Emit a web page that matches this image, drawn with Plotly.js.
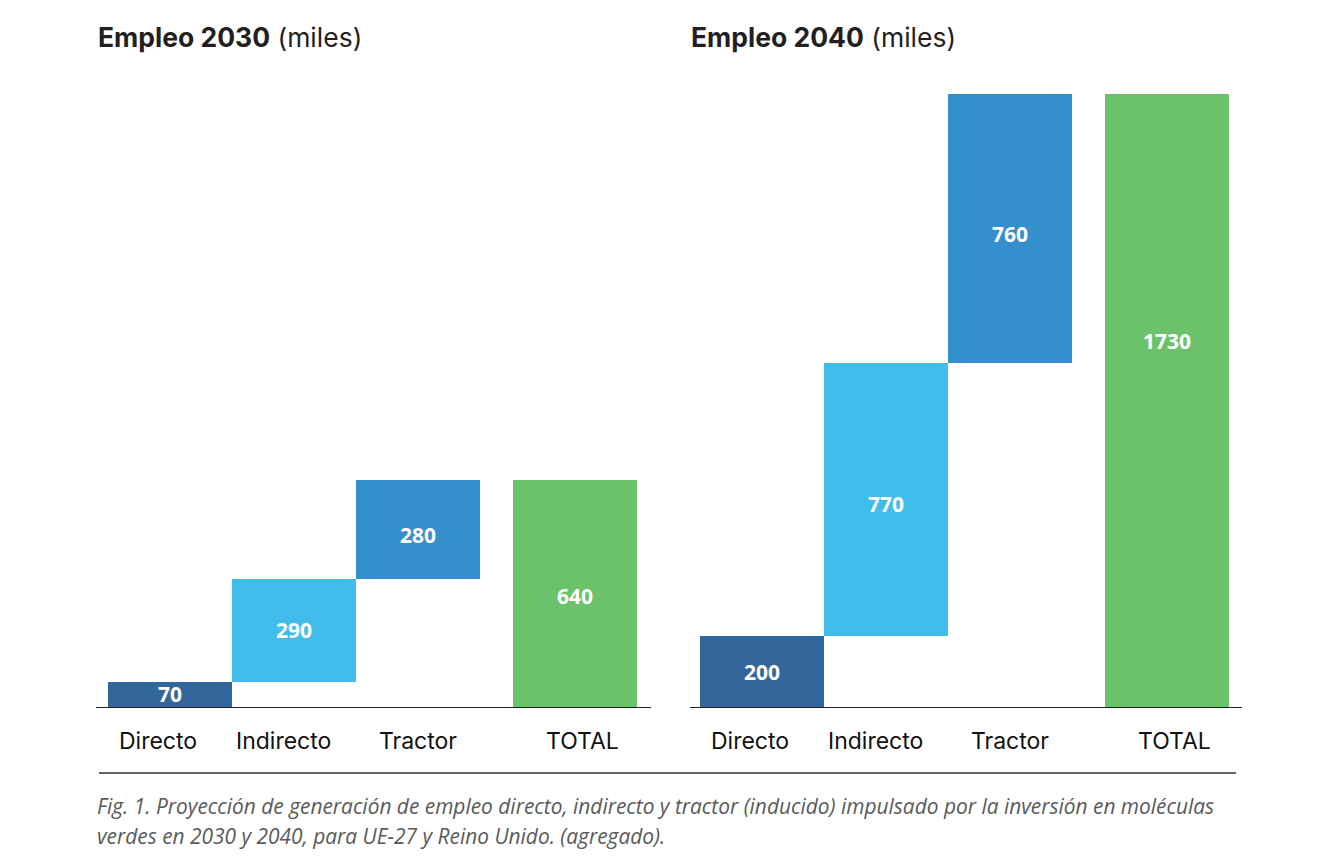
<!DOCTYPE html>
<html>
<head>
<meta charset="utf-8">
<script src="https://cdn.plot.ly/plotly-3.0.1.min.js"></script>
<style>
  html, body { margin: 0; padding: 0; background: #fff; }
  #chart { width: 1328px; height: 864px; }
</style>
</head>
<body>
<div id="chart"></div>
<script>
// Job creation (thousands) by type, 2030 and 2040
const categories = ['Directo', 'Indirecto', 'Tractor', 'TOTAL'];
const empleo2030 = [70, 290, 280, 640];
const empleo2040 = [200, 770, 760, 1730];
const barColors = ['#33669b', '#41bdec', '#3390cc', '#6bc26b'];
const panelTitles = ['<b>Empleo 2030</b> (miles)', '<b>Empleo 2040</b> (miles)'];
const captionLines = [
  'Fig. 1. Proyección de generación de empleo directo, indirecto y tractor (inducido) impulsado por la inversión en moléculas',
  'verdes en 2030 y 2040, para UE-27 y Reino Unido. (agregado).'
];

// Bar slots: three contiguous steps, then a detached total
const xPos = [0, 1, 2, 3.266];
const labelShift = [-12, -11, 0, 8];
// vertical nudges (px) for the value labels of each panel
const valueNudge = [[1, 1, -5, -2], [0, -4, -5, 60]];

// Waterfall bases: each step starts where the previous ended, total from zero
function bases(vals) {
  const out = [];
  let acc = 0;
  for (let i = 0; i < vals.length - 1; i++) { out.push(acc); acc += vals[i]; }
  out.push(0);
  return out;
}

function panel(vals, xa, ya) {
  return {
    type: 'bar',
    x: xPos,
    y: vals,
    base: bases(vals),
    width: 1,
    marker: { color: barColors, line: { width: 0 } },
    textposition: 'none',
    xaxis: xa,
    yaxis: ya,
    hoverinfo: 'skip'
  };
}

const data = [panel(empleo2030, 'x', 'y'), panel(empleo2040, 'x2', 'y2')];

const W = 1328;
const axisBase = {
  showgrid: false, zeroline: false, showticklabels: false, ticks: '',
  showline: true, linecolor: '#222', linewidth: 1.3, fixedrange: true
};
const yBase = {
  range: [0, 1730], showgrid: false, zeroline: false, showticklabels: false,
  showline: false, fixedrange: true
};

const annotations = [];
[
  ['x', 'y', panelTitles[0], 96, empleo2030, valueNudge[0]],
  ['x2', 'y2', panelTitles[1], 689, empleo2040, valueNudge[1]]
].forEach(([xa, ya, t, px, vals, nudge]) => {
  annotations.push({
    text: t, xref: 'paper', yref: 'paper', x: px / W, y: 1, yshift: 57,
    xanchor: 'left', yanchor: 'middle', showarrow: false,
    font: { family: 'Inter', size: 26.5, color: '#231f20' }
  });
  const b = bases(vals);
  vals.forEach((v, i) => {
    annotations.push({
      text: String(v), xref: xa, yref: ya, x: xPos[i], y: b[i] + v / 2,
      yshift: nudge[i], xanchor: 'center', yanchor: 'middle', showarrow: false,
      font: { family: 'Open Sans', size: 21, color: '#ffffff', weight: 700 }
    });
  });
  categories.forEach((c, i) => {
    annotations.push({
      text: c, xref: xa, yref: 'paper', x: xPos[i], y: 0, xshift: labelShift[i],
      yshift: -34, yanchor: 'middle', xanchor: 'center', showarrow: false,
      font: { family: 'Inter', size: 23, color: '#111' }
    });
  });
});

captionLines.forEach((line, k) => {
  annotations.push({
    text: line, xref: 'paper', yref: 'paper', x: 95 / W, y: 0, yshift: -99 - 30 * k,
    xanchor: 'left', yanchor: 'middle', align: 'left', showarrow: false,
    font: { family: 'Open Sans', size: 20.9, color: '#5a5a5a', style: 'italic' }
  });
});

const layout = {
  width: 1328, height: 864,
  margin: { l: 0, r: 0, t: 94, b: 157 },
  paper_bgcolor: '#fff', plot_bgcolor: '#fff',
  showlegend: false,
  bargap: 0,
  xaxis: Object.assign({}, axisBase, { domain: [96 / W, 651 / W], range: [-0.597, 3.879] }),
  xaxis2: Object.assign({}, axisBase, { domain: [690 / W, 1242 / W], range: [-0.581, 3.871] }),
  yaxis: Object.assign({}, yBase, { anchor: 'x' }),
  yaxis2: Object.assign({}, yBase, { anchor: 'x2' }),
  annotations: annotations,
  shapes: [{
    type: 'line', xref: 'paper', yref: 'paper',
    x0: 99 / W, x1: 1236 / W, y0: -66 / 613, y1: -66 / 613,
    line: { color: '#333', width: 1.5 }
  }]
};

Plotly.newPlot('chart', data, layout, { displayModeBar: false, staticPlot: true });
</script>
</body>
</html>
